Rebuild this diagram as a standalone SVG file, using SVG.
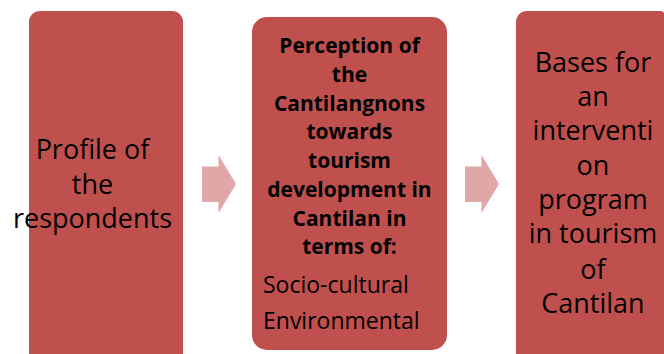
<svg xmlns="http://www.w3.org/2000/svg" width="664" height="354" viewBox="0 0 664 354">
  <style>
    .box { fill: #C0504D; }
    .arrow { fill: #DFA8A7; }
    .big { font-family: "Open Sans", Lato, "Liberation Sans", sans-serif; font-size: 27px; fill: #000; text-anchor: middle; }
    .bold { font-family: "Open Sans", Lato, "Liberation Sans", sans-serif; font-size: 21px; font-weight: bold; fill: #000; text-anchor: middle; }
    .item { font-family: "Open Sans", Lato, "Liberation Sans", sans-serif; font-size: 23px; fill: #000; }
  </style>
  <rect width="664" height="354" fill="#FFFFFF"/>

  <g id="connectors">
    <polygon class="arrow" points="202,166.5 218.5,166.5 218.5,155 236,184 218.5,213 218.5,202 202,202"/>
    <polygon class="arrow" points="465,166.5 481.5,166.5 481.5,155 499,184 481.5,213 481.5,202 465,202"/>
  </g>

  <g id="node-profile">
    <rect class="box" x="29" y="11" width="154" height="360" rx="11" ry="11"/>
    <text class="big" x="92.5" y="159">Profile of</text>
    <text class="big" x="92.5" y="194">the</text>
    <text class="big" x="92.5" y="228">respondents</text>
  </g>

  <g id="node-perception">
    <rect class="box" x="252" y="17" width="195" height="333" rx="15" ry="15"/>
    <text class="bold" x="349.5" y="53">Perception of</text>
    <text class="bold" x="349.5" y="82">the</text>
    <text class="bold" x="349.5" y="111">Cantilangnons</text>
    <text class="bold" x="349.5" y="139">towards</text>
    <text class="bold" x="349.5" y="168">tourism</text>
    <text class="bold" x="349.5" y="197">development in</text>
    <text class="bold" x="349.5" y="226">Cantilan in</text>
    <text class="bold" x="349.5" y="254">terms of:</text>
    <text class="item" x="263" y="293">Socio-cultural</text>
    <text class="item" x="263" y="329">Environmental</text>
  </g>

  <g id="node-bases">
    <rect class="box" x="516" y="11" width="154" height="360" rx="11" ry="11"/>
    <text class="big" x="593" y="72">Bases for</text>
    <text class="big" x="593" y="106">an</text>
    <text class="big" x="593" y="140">interventi</text>
    <text class="big" x="593" y="175">on</text>
    <text class="big" x="593" y="209">program</text>
    <text class="big" x="593" y="243">in tourism</text>
    <text class="big" x="593" y="279">of</text>
    <text class="big" x="593" y="313">Cantilan</text>
  </g>
</svg>
